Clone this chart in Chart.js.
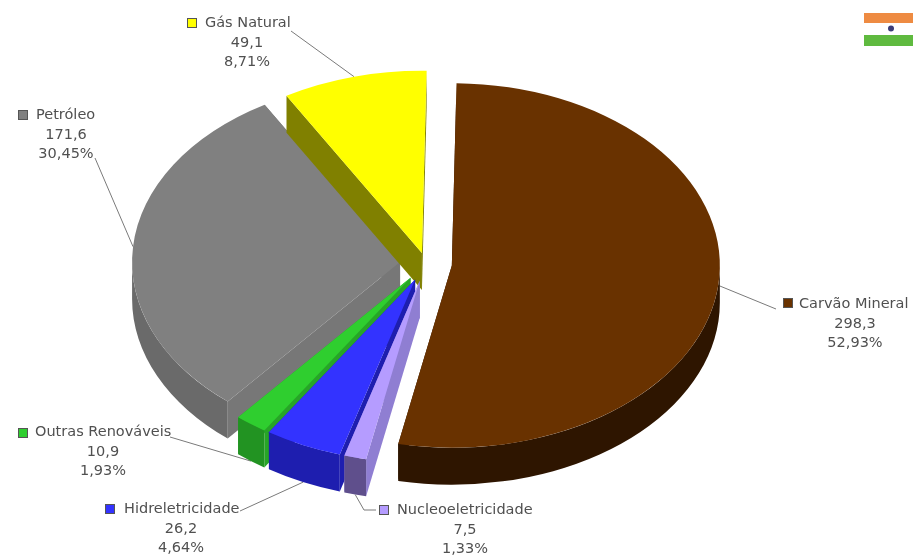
<!DOCTYPE html>
<html>
<head>
<meta charset="utf-8">
<style>
  html, body { margin: 0; padding: 0; background: #ffffff; }
  canvas { display: block; }
</style>
<script src="https://cdn.jsdelivr.net/npm/chart.js@4/dist/chart.umd.js"></script>
</head>
<body>
<canvas id="matriz" width="913" height="556"></canvas>
<script>
// Matriz energética: consumo por fonte, com rótulos de valor e percentual
const categories = ['Carvão Mineral', 'Nucleoeletricidade', 'Hidreletricidade', 'Outras Renováveis', 'Petróleo', 'Gás Natural'];
const values = [298.3, 7.5, 26.2, 10.9, 171.6, 49.1];
const percentLabels = ['52,93%', '1,33%', '4,64%', '1,93%', '30,45%', '8,71%'];

const topColors = ['#693200', '#b59cff', '#3333ff', '#2fce2f', '#808080', '#ffff00'];
const rimColors = ['#2e1500', '#5f4f8c', '#1e1eaf', '#229322', '#6a6a6a', '#808000'];
const cutColors = ['#2e1500', '#8f7ed2', '#1e1eaf', '#27a527', '#777777', '#808000'];
const explode = [26, 26, 26, 26, 26, 16];

// Back slices are painted first so that nearer walls cover them
const paintOrder = [4, 5, 3, 2, 1, 0];

const TILT = 0.68;
const DEPTH = 37;

// Label block per slice: key square, name start, centre of the value lines, leader polyline
const labelLayout = [
  { key: [783, 298], nameX: 799, nameY: 304, midX: 855, elbow: [[776, 309]], base: false },
  { key: [379, 505], nameX: 397, nameY: 510, midX: 465, elbow: [[364, 510], [376, 510]], base: true },
  { key: [105, 504], nameX: 124, nameY: 509, midX: 181, elbow: [[240, 511]], base: true },
  { key: [18, 428],  nameX: 35,  nameY: 432, midX: 103, elbow: [[170, 437]], base: true },
  { key: [18, 110],  nameX: 36,  nameY: 115, midX: 66,  elbow: [[95, 158]], base: false },
  { key: [187, 18],  nameX: 205, nameY: 23,  midX: 247, elbow: [[291, 31]], base: false }
];

// Pull-out of a slice along its middle angle, in the flat (untilted) plane
function pullOf(arc, i) {
  const mid = (arc.startAngle + arc.endAngle) / 2;
  return { dx: Math.cos(mid) * explode[i], dy: Math.sin(mid) * explode[i], mid };
}

function drawWalls(ctx, arc, i) {
  const r = arc.outerRadius;
  const drop = DEPTH / TILT;

  // Flat cut faces along both straight edges of the slice
  ctx.fillStyle = cutColors[i];
  [arc.startAngle, arc.endAngle].forEach(angle => {
    const rx = arc.x + Math.cos(angle) * r;
    const ry = arc.y + Math.sin(angle) * r;
    ctx.beginPath();
    ctx.moveTo(arc.x, arc.y);
    ctx.lineTo(rx, ry);
    ctx.lineTo(rx, ry + drop);
    ctx.lineTo(arc.x, arc.y + drop);
    ctx.closePath();
    ctx.fill();
  });

  // Curved outer wall, only on the part of the rim that faces the viewer
  const full = Math.PI * 2;
  for (const turn of [-full, 0, full]) {
    const from = Math.max(arc.startAngle + turn, 0);
    const to = Math.min(arc.endAngle + turn, Math.PI);
    if (to > from) {
      ctx.fillStyle = rimColors[i];
      ctx.beginPath();
      ctx.arc(arc.x, arc.y, r, from, to);
      ctx.arc(arc.x, arc.y + drop, r, to, from, true);
      ctx.closePath();
      ctx.fill();
    }
  }
}

function drawLeaders(ctx, arcs) {
  ctx.save();
  ctx.strokeStyle = '#7a7a7a';
  ctx.lineWidth = 1;
  arcs.forEach((arc, i) => {
    const p = pullOf(arc, i);
    const r = arc.outerRadius;
    const px = arc.x + p.dx + Math.cos(p.mid) * r;
    const py = arc.y + (p.dy + Math.sin(p.mid) * r) * TILT + (labelLayout[i].base ? DEPTH : 0);
    ctx.beginPath();
    ctx.moveTo(px, py);
    labelLayout[i].elbow.forEach(pt => ctx.lineTo(pt[0], pt[1]));
    ctx.stroke();
  });
  ctx.restore();
}

const solidPie = {
  id: 'solidPie',
  beforeDatasetDraw(chart, args) {
    const ctx = chart.ctx;
    const arcs = args.meta.data;
    drawLeaders(ctx, arcs);
    ctx.save();
    ctx.translate(0, arcs[0].y * (1 - TILT));
    ctx.scale(1, TILT);
    paintOrder.forEach(i => {
      const p = pullOf(arcs[i], i);
      ctx.save();
      ctx.translate(p.dx, p.dy);
      drawWalls(ctx, arcs[i], i);
      arcs[i].draw(ctx);
      ctx.restore();
    });
    ctx.restore();
    return false;
  }
};

const sliceLabels = {
  id: 'sliceLabels',
  afterDatasetsDraw(chart) {
    const ctx = chart.ctx;
    ctx.save();
    ctx.font = '14.5px "DejaVu Sans"';
    ctx.textBaseline = 'middle';
    categories.forEach((name, i) => {
      const box = labelLayout[i];
      ctx.fillStyle = topColors[i];
      ctx.fillRect(box.key[0], box.key[1], 10, 10);
      ctx.strokeStyle = '#555555';
      ctx.lineWidth = 1;
      ctx.strokeRect(box.key[0] + 0.5, box.key[1] + 0.5, 9, 9);
      ctx.fillStyle = '#505050';
      ctx.textAlign = 'left';
      ctx.fillText(name, box.nameX, box.nameY);
      ctx.textAlign = 'center';
      ctx.fillText(values[i].toFixed(1).replace('.', ','), box.midX, box.nameY + 20);
      ctx.fillText(percentLabels[i], box.midX, box.nameY + 39);
    });
    ctx.restore();
  }
};

// Bandeira da Índia no canto superior direito
const flagBadge = {
  id: 'flagBadge',
  afterDraw(chart) {
    const ctx = chart.ctx;
    ctx.save();
    ctx.fillStyle = '#ee8b42';
    ctx.fillRect(864, 13, 49, 10);
    ctx.fillStyle = '#5fba3f';
    ctx.fillRect(864, 35, 49, 11);
    ctx.fillStyle = '#3c3c78';
    ctx.beginPath();
    ctx.arc(891, 28.5, 3, 0, Math.PI * 2);
    ctx.fill();
    ctx.restore();
  }
};

new Chart(document.getElementById('matriz'), {
  type: 'pie',
  data: {
    labels: categories,
    datasets: [{
      data: values,
      backgroundColor: topColors,
      borderWidth: 0,
      hoverOffset: 0
    }]
  },
  options: {
    responsive: false,
    animation: false,
    devicePixelRatio: 1,
    radius: 268,
    rotation: 1,
    layout: { padding: { left: 0, top: 0, right: 61, bottom: 29 } },
    events: [],
    plugins: { legend: { display: false }, tooltip: { enabled: false }, title: { display: false } }
  },
  plugins: [solidPie, sliceLabels, flagBadge]
});
</script>
</body>
</html>
